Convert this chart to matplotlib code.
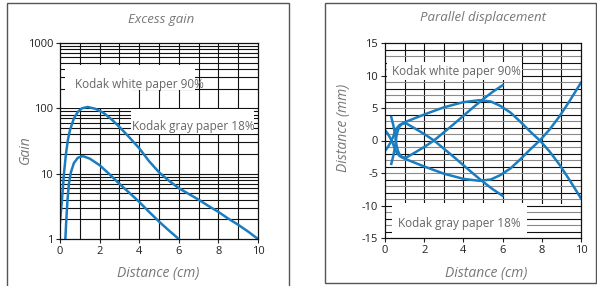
import matplotlib
matplotlib.use("Agg")
import matplotlib.pyplot as plt
from matplotlib.patches import Rectangle
from matplotlib.ticker import NullLocator, FixedLocator

# ---- data ----
# Excess gain (log scale)
white_gain_x = [0.0, 0.1, 0.2, 0.3, 0.4, 0.5, 0.7, 0.9, 1.1, 1.4, 1.8, 2.2, 2.6, 3.0,
                3.5, 4.0, 4.5, 5.0, 5.5, 6.0, 6.5, 7.0, 7.5, 8.0, 8.5, 9.0, 9.5, 10.0]
white_gain_y = [1.8, 4.0, 10, 20, 33, 46, 70, 88, 100, 105, 98, 85, 68, 52,
                36, 24.5, 15.5, 10.5, 7.8, 6.0, 4.9, 4.0, 3.2, 2.6, 2.05, 1.65, 1.3, 1.0]
gray_gain_x = [0.27, 0.32, 0.38, 0.45, 0.55, 0.7, 0.9, 1.15, 1.5, 2.0, 2.5, 3.0,
               3.5, 4.0, 4.5, 5.0, 5.5, 6.0]
gray_gain_y = [1.0, 2.0, 4.0, 7.0, 10.5, 14.5, 17.5, 18.6, 17.0, 13.5, 9.8, 7.0,
               5.1, 3.7, 2.6, 1.85, 1.35, 1.0]

# Parallel displacement (two branches per paper)
white_disp_x = [0.0, 0.15, 0.3, 0.42, 0.5, 0.6, 0.75, 1.0, 1.5, 2.0, 3.0, 4.0, 4.8,
                5.4, 5.9, 6.4, 6.9, 7.4, 7.9, 8.4, 8.9, 9.4, 10.0]
white_disp_a = [-1.6, -1.0, -0.2, 0.6, 1.3, 1.9, 2.4, 2.8, 3.4, 4.0, 5.1, 5.9, 6.2,
                6.0, 5.3, 4.3, 2.9, 1.4, 0.0, -1.7, -3.7, -6.0, -8.9]
white_disp_b = [1.6, 1.0, 0.2, -0.6, -1.3, -1.9, -2.4, -2.8, -3.4, -4.0, -5.1, -5.9, -6.2,
                -6.0, -5.3, -4.3, -2.9, -1.4, 0.0, 1.7, 3.7, 6.0, 8.9]
gray_disp_x = [0.32, 0.42, 0.5, 0.55, 0.58, 0.65, 0.75, 0.9, 1.1, 1.5, 2.0, 2.5,
               3.0, 3.5, 4.0, 4.5, 5.0, 5.5, 6.0]
gray_disp_a = [3.6, 2.4, 1.2, 0.2, -0.6, -1.5, -2.2, -2.6, -2.6, -1.9, -1.0, 0.0,
               1.25, 2.5, 3.8, 5.1, 6.35, 7.5, 8.5]
gray_disp_b = [-3.6, -2.4, -1.2, -0.2, 0.6, 1.5, 2.2, 2.6, 2.6, 1.9, 1.0, 0.0,
               -1.25, -2.5, -3.8, -5.1, -6.35, -7.5, -8.5]

gain_ticks = [1, 10, 100, 1000]
disp_ticks = [-15, -10, -5, 0, 5, 10, 15]
dist_ticks = [0, 2, 4, 6, 8, 10]

BLUE = "#1a7dc0"
LABEL = "#777777"
TEXT = "#666666"

plt.rcParams["font.family"] = ["Open Sans", "DejaVu Sans"]
plt.rcParams["axes.unicode_minus"] = False

fig = plt.figure(figsize=(5.97, 2.86), dpi=100)


def px(x, y):
    """pixel position (from top-left) -> figure fraction"""
    return x / 597, 1 - y / 286


# panel frames
fig.add_artist(Rectangle(px(7, 300), 282 / 597, 297 / 286, transform=fig.transFigure,
                         fill=False, edgecolor="#555555", lw=1.0))
fig.add_artist(Rectangle(px(325, 283), 271 / 597, 280 / 286, transform=fig.transFigure,
                         fill=False, edgecolor="#555555", lw=1.0))


def style_axes(ax):
    for s in ax.spines.values():
        s.set_color("#111111")
        s.set_linewidth(0.9)
        s.set_zorder(5)
    ax.tick_params(direction="out", length=3, width=0.8, labelsize=8,
                   colors="#222222", pad=2)
    ax.xaxis.set_minor_locator(NullLocator())
    ax.yaxis.set_minor_locator(NullLocator())


# ---- left: excess gain ----
ax1 = fig.add_axes([60 / 597, 47 / 286, 198 / 597, 196 / 286])
ax1.set_yscale("log")
ax1.set_xlim(0, 10)
ax1.set_ylim(1, 1000)
for v in range(1, 10):
    ax1.axvline(v, color="#111111", lw=0.8, zorder=0.5)
for dec in [1, 10, 100]:
    for m in range(1, 10):
        if dec * m > 1:
            ax1.axhline(dec * m, color="#111111", lw=0.8, zorder=0.5)
ax1.add_patch(Rectangle((0.25, 190), 6.55, 270, color="white", lw=0, zorder=1))
ax1.add_patch(Rectangle((0.25, 101), 3.4, 89, color="white", lw=0, zorder=1))
ax1.add_patch(Rectangle((3.6, 40), 6.2, 58, color="white", lw=0, zorder=1))
ax1.plot(white_gain_x, white_gain_y, color=BLUE, lw=1.8, zorder=3)
ax1.plot(gray_gain_x, gray_gain_y, color=BLUE, lw=1.8, zorder=3)
ax1.text(0.76, 228, "Kodak white paper 90%", fontsize=8.5, color=TEXT, va="center", zorder=4)
ax1.text(3.64, 52, "Kodak gray paper 18%", fontsize=8.5, color=TEXT, va="center", zorder=4)
ax1.yaxis.set_major_locator(FixedLocator(gain_ticks))
ax1.set_yticklabels([str(t) for t in gain_ticks])
ax1.set_xticks(dist_ticks)
style_axes(ax1)
ax1.yaxis.set_minor_locator(NullLocator())

# ---- right: parallel displacement ----
ax2 = fig.add_axes([385 / 597, 48 / 286, 196 / 597, 195 / 286])
ax2.set_xlim(0, 10)
ax2.set_ylim(-15, 15)
for v in range(1, 10):
    ax2.axvline(v, color="#111111", lw=0.8, zorder=0.5)
ax2.add_patch(Rectangle((7.23, -15), 2.77, 5.3, color="white", lw=0, zorder=0.7))
for v in range(-14, 15):
    ax2.axhline(v, color="#111111" if v % 2 == 0 else "#8a8a8a", lw=0.8, zorder=0.9)
ax2.add_patch(Rectangle((0.1, 9.3), 6.9, 2.8, color="white", lw=0, zorder=1))
ax2.add_patch(Rectangle((0.34, -15), 6.89, 5.33, color="white", lw=0, zorder=1))
ax2.plot(white_disp_x, white_disp_a, color=BLUE, lw=1.8, zorder=3)
ax2.plot(white_disp_x, white_disp_b, color=BLUE, lw=1.8, zorder=3)
ax2.plot(gray_disp_x, gray_disp_a, color=BLUE, lw=1.8, zorder=3)
ax2.plot(gray_disp_x, gray_disp_b, color=BLUE, lw=1.8, zorder=3)
ax2.text(0.34, 10.6, "Kodak white paper 90%", fontsize=8.5, color=TEXT, va="center", zorder=4)
ax2.text(0.68, -12.7, "Kodak gray paper 18%", fontsize=8.5, color=TEXT, va="center", zorder=4)
ax2.set_yticks(disp_ticks)
ax2.set_xticks(dist_ticks)
style_axes(ax2)

# titles and axis labels
fig.text(*px(161, 20), "Excess gain", ha="center", va="center", fontsize=9.5,
         style="italic", color=LABEL)
fig.text(*px(158, 273), "Distance (cm)", ha="center", va="center", fontsize=10,
         style="italic", color=LABEL)
fig.text(*px(25, 150), "Gain", ha="center", va="center", fontsize=10,
         style="italic", color=LABEL, rotation=90)
fig.text(*px(483, 17), "Parallel displacement", ha="center", va="center", fontsize=9.5,
         style="italic", color=LABEL)
fig.text(*px(486, 273), "Distance (cm)", ha="center", va="center", fontsize=10,
         style="italic", color=LABEL)
fig.text(*px(343, 128), "Distance (mm)", ha="center", va="center", fontsize=10,
         style="italic", color=LABEL, rotation=90)

fig.savefig("out.png", dpi=100)
